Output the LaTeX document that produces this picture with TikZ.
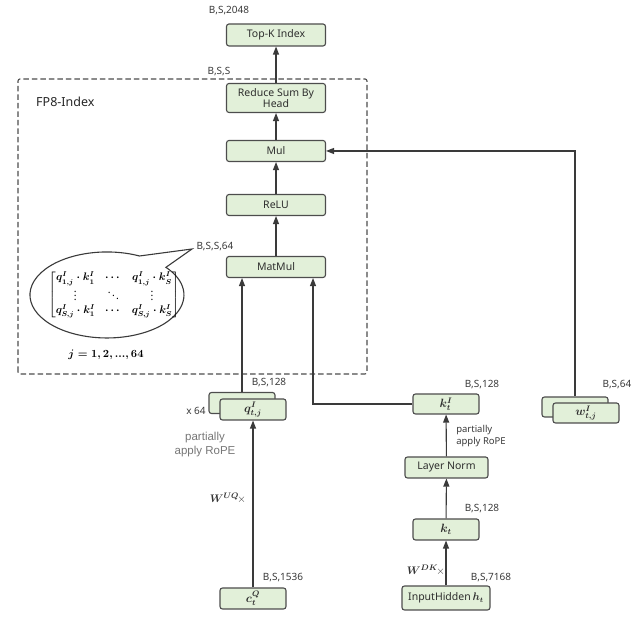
\documentclass[tikz,border=0pt]{standalone}
\usepackage{amsmath,bm}
\usepackage{fontspec}
\setmainfont{Noto Sans}
\newfontfamily\arialf{Liberation Sans}
\usetikzlibrary{arrows.meta}
\definecolor{boxfill}{HTML}{E2F0D9}
\definecolor{boxdraw}{HTML}{4D4D4D}
\definecolor{lbl}{HTML}{3A3A3A}
\definecolor{linec}{HTML}{3A3A3A}
\definecolor{ropec}{HTML}{777777}
\newsavebox{\mymatbox}
\newsavebox{\myjbox}
\begin{document}
\sbox{\mymatbox}{\fontsize{10.5}{12}\selectfont\boldmath$\begin{bmatrix} q^I_{1,j}\cdot k^I_1 & \cdots & q^I_{1,j}\cdot k^I_S\\
   \vdots & \ddots & \vdots\\
   q^I_{S,j}\cdot k^I_1 & \cdots & q^I_{S,j}\cdot k^I_S\end{bmatrix}$}%
\sbox{\myjbox}{\fontsize{10.5}{12}\selectfont\boldmath$j=1,2,...,64$}%
\begin{tikzpicture}[x=1pt,y=1pt,
  font=\fontsize{10.5}{12}\selectfont,
  opbox/.style={draw=boxdraw, fill=boxfill, rounded corners=2.5pt, line width=1.1pt,
    minimum height=21pt, minimum width=66pt, text=black!82, inner sep=1pt, align=center},
  mathbox/.style={opbox, font=\fontsize{11.5}{13}\selectfont},
  dimlbl/.style={font=\fontsize{10}{11}\selectfont, text=lbl, inner sep=0pt},
  conn/.style={draw=linec, line width=1.1pt, -{Triangle[length=8pt,width=6pt]}},
  plainline/.style={draw=linec, line width=1.1pt},
]
\useasboundingbox (0,0) rectangle (635,620);

% dashed group
\draw[draw=boxdraw, line width=1.1pt, dash pattern=on 5.5pt off 3pt, rounded corners=2pt]
  (18,246) rectangle (367,541);
\node[anchor=west, font=\fontsize{12.5}{14}\selectfont\bfseries, text=black!85, inner sep=0pt] (fp8) at (36,518) {FP8-Index};

% main chain
\node[opbox, minimum width=99pt, minimum height=22pt] (topk) at (276,585) {Top-K Index};
\node[opbox, minimum width=99pt, minimum height=29pt, font=\fontsize{10.5}{11.5}\selectfont] (red) at (276,522) {Reduce Sum By\\Head};
\node[opbox, minimum width=99pt] (mul) at (276,469) {Mul};
\node[opbox, minimum width=99pt] (relu) at (276,415) {ReLU};
\node[opbox, minimum width=99pt] (mm) at (276,353) {MatMul};

\node[dimlbl] (l2048) at (229,609) {B,S,2048};
\node[dimlbl] (lbss) at (219,548) {B,S,S};
\node[dimlbl] (lbss64) at (215,373) {B,S,S,64};

\draw[conn] (red) -- (topk);
\draw[conn] (mul) -- (red);
\draw[conn] (relu) -- (mul);
\draw[conn] (mm) -- (relu);

% callout ellipse
\coordinate (es) at (139.5,364);
\coordinate (tip) at (192,371);
\draw[plainline, fill=white] (es)
  arc[start angle=65, end angle=400, x radius=77pt, y radius=43pt] -- (tip) -- cycle;
\node[inner sep=0pt] (mat) at (114,325) {\usebox{\mymatbox}};
\node[inner sep=0pt] (jlab) at (106,265) {\usebox{\myjbox}};

% q branch
\node[opbox] (qb) at (242,217) {};
\node[mathbox] (qf) at (253,210.5) {$\bm{q^I_{t,j}}$};
\node[dimlbl] (x64) at (196,209) {x 64};
\node[dimlbl] (lq128) at (269,237) {B,S,128};
\node[font=\arialf\fontsize{11.5}{14}\selectfont, text=ropec, align=center, inner sep=0pt] (ropeq) at (205,175) {partially\\apply RoPE};
\node[mathbox] (cq) at (253,21.5) {$\bm{c_t^Q}$};
\node[dimlbl] (l1536) at (283,42) {B,S,1536};
\node[anchor=east, inner sep=0pt, text=black!80, font=\fontsize{11}{13}\selectfont] (wuq) at (246,122) {$\bm{W^{UQ}}\!\times$};
\draw[conn] (cq) -- (qf);
\draw[conn] (qb.north) -- (qb.north |- mm.south);

% k branch
\node[mathbox, minimum height=20pt] (kI) at (446,216) {$\bm{k^I_t}$};
\node[dimlbl] (lk128) at (482,235) {B,S,128};
\node[font=\fontsize{9.5}{12}\selectfont, text=lbl, align=left, inner sep=0pt] (ropek) at (481,184) {partially\\apply RoPE};
\node[opbox, minimum width=83pt] (ln) at (446.5,152.5) {Layer Norm};
\node[mathbox] (kt) at (446,90.5) {$\bm{k_t}$};
\node[dimlbl] (lkt128) at (482,111) {B,S,128};
\node[opbox, minimum width=88pt, minimum height=24pt] (inh) at (446,22) {InputHidden\,$\bm{h_t}$};
\node[dimlbl] (l7168) at (491,42) {B,S,7168};
\node[anchor=east, inner sep=0pt, text=black!80, font=\fontsize{11}{13}\selectfont] (wdk) at (445,50) {$\bm{W^{DK}}\!\times$};
\draw[conn] (inh) -- (kt);
\draw[conn] (kt) -- (ln);
\draw[conn] (ln) -- (kI);
\draw[conn] (kI.west) -| ([xshift=37pt]mm.south);

% w branch
\node[opbox, minimum height=20pt] (wb) at (575,213) {};
\node[mathbox, minimum height=20pt] (wf) at (586,207) {$\bm{w^I_{t,j}}$};
\node[dimlbl] (lw64) at (617,235) {B,S,64};
\draw[conn] (wb.north) |- (mul.east);

\end{tikzpicture}
\end{document}
